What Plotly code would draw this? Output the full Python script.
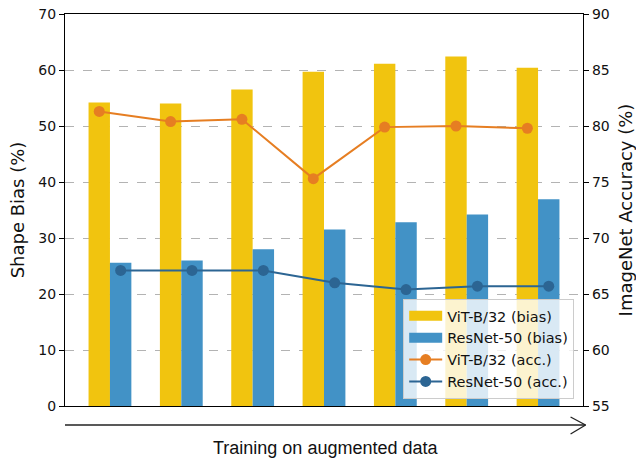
import numpy as np
import plotly.graph_objects as go

# ---- data ----
steps = list(range(7))
vit_bias = [54.2, 54.0, 56.5, 59.7, 61.1, 62.4, 60.4]
resnet_bias = [25.6, 26.0, 28.0, 31.5, 32.8, 34.2, 36.9]
vit_acc = [81.3, 80.4, 80.6, 75.3, 79.9, 80.0, 79.8]
resnet_acc = [67.1, 67.1, 67.1, 66.0, 65.4, 65.7, 65.7]

series_names = ["ViT-B/32 (bias)", "ResNet-50 (bias)", "ViT-B/32 (acc.)", "ResNet-50 (acc.)"]
left_ticks = [0, 10, 20, 30, 40, 50, 60, 70]
right_ticks = [55, 60, 65, 70, 75, 80, 85, 90]

YELLOW = "#F1C40F"
BLUE = "#4292C6"
ORANGE = "#E67E22"
DARKBLUE = "#2C6593"

BAR_W = 0.3
x = np.array(steps, dtype=float)

fig = go.Figure()

# bars
fig.add_trace(go.Bar(x=x - BAR_W / 2, y=vit_bias, width=BAR_W, marker_color=YELLOW,
                     marker_line_width=0, name=series_names[0], showlegend=False))
fig.add_trace(go.Bar(x=x + BAR_W / 2, y=resnet_bias, width=BAR_W, marker_color=BLUE,
                     marker_line_width=0, name=series_names[1], showlegend=False))

# legend proxies for bars (wide rectangle patches)
fig.add_trace(go.Scatter(x=[None], y=[None], mode="lines", line=dict(color=YELLOW, width=12),
                         name=series_names[0], legendrank=1))
fig.add_trace(go.Scatter(x=[None], y=[None], mode="lines", line=dict(color=BLUE, width=12),
                         name=series_names[1], legendrank=2))

# accuracy lines on right axis
fig.add_trace(go.Scatter(x=x - BAR_W / 2, y=vit_acc, yaxis="y2", mode="lines+markers",
                         line=dict(color=ORANGE, width=2), marker=dict(size=11, color=ORANGE),
                         name=series_names[2], legendrank=3))
fig.add_trace(go.Scatter(x=x + BAR_W / 2, y=resnet_acc, yaxis="y2", mode="lines+markers",
                         line=dict(color=DARKBLUE, width=2), marker=dict(size=11, color=DARKBLUE),
                         name=series_names[3], legendrank=4))

tickfont = dict(family="DejaVu Sans", size=14, color="#111")
titlefont = dict(family="DejaVu Sans", size=18, color="#111")

fig.update_layout(
    width=636, height=459,
    margin=dict(l=65, r=53, t=14, b=53, autoexpand=False),
    paper_bgcolor="white", plot_bgcolor="white",
    barmode="overlay",
    showlegend=True,
    legend=dict(x=0.983, y=0.018, xanchor="right", yanchor="bottom",
                bgcolor="rgba(255,255,255,0.8)", bordercolor="#cccccc", borderwidth=1,
                font=dict(family="DejaVu Sans", size=14.5, color="#111"),
                itemwidth=33, tracegroupgap=0),
    xaxis=dict(range=[-0.63, 6.63], showticklabels=False, ticks="", showgrid=False,
               zeroline=False, showline=True, mirror=True, linecolor="black", linewidth=1.3,
               automargin=False),
    yaxis=dict(range=[0, 70], tickvals=left_ticks, ticks="outside", ticklen=5, tickwidth=1.2,
               tickcolor="black", tickfont=tickfont, showline=True, linecolor="black",
               linewidth=1.3, showgrid=True, gridcolor="#b3b3b3", griddash="dash",
               gridwidth=1, zeroline=False, automargin=False,
               title=dict(text="Shape Bias (%)", font=titlefont, standoff=8)),
    yaxis2=dict(range=[55, 90], tickvals=right_ticks, overlaying="y", side="right",
                ticks="outside", ticklen=5, tickwidth=1.2, tickcolor="black",
                tickfont=tickfont, showline=True, linecolor="black", linewidth=1.3,
                showgrid=False, zeroline=False, automargin=False,
                title=dict(text="ImageNet Accuracy (%)", font=titlefont, standoff=12)),
)

# arrow below the plot
arrow_y = -0.0485
fig.add_shape(type="line", xref="paper", yref="paper", x0=0.0, x1=1.005, y0=arrow_y, y1=arrow_y,
              line=dict(color="#222", width=1.3))
fig.add_shape(type="line", xref="paper", yref="paper", x0=0.976, x1=1.005, y0=-0.028, y1=arrow_y,
              line=dict(color="#222", width=1.3))
fig.add_shape(type="line", xref="paper", yref="paper", x0=0.976, x1=1.005, y0=-0.0714, y1=arrow_y,
              line=dict(color="#222", width=1.3))

fig.add_annotation(text="Training on augmented data", xref="paper", yref="paper",
                   x=0.503, y=-0.107, xanchor="center", yanchor="middle", showarrow=False,
                   font=dict(family="Liberation Sans", size=18, color="#111"))

fig.write_html("out.html", config={"displayModeBar": False},
               post_script="document.body.style.margin='0';document.body.style.overflow='hidden';")
